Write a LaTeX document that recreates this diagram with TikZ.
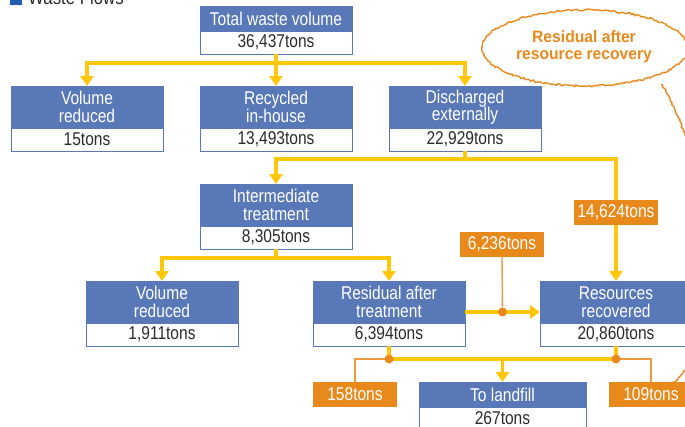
\documentclass[tikz,border=0pt]{standalone}
\usepackage{fontspec}
\setmainfont{Liberation Sans}[FakeStretch=0.84]
\newfontfamily\bubblefont{Liberation Sans}[FakeStretch=0.95]
\usepackage{tikz}
\usetikzlibrary{positioning,arrows.meta,decorations.pathmorphing}
\definecolor{boxblue}{HTML}{5878B8}
\definecolor{flowgold}{HTML}{FFC60A}
\definecolor{tagorange}{HTML}{E8891C}
\definecolor{valgray}{HTML}{2B2B2B}
\definecolor{titleblue}{HTML}{1F5FAD}
\tikzset{
  head/.style={fill=boxblue, draw=boxblue, line width=1pt, text=white, align=center, inner sep=0pt, outer sep=0pt, minimum width=152pt, minimum height=42pt, anchor=north west, font=\fontsize{18.5}{17.5}\selectfont},
  headone/.style={head, minimum height=25pt},
  val/.style={fill=white, draw=boxblue, line width=1pt, text=valgray, inner sep=0pt, outer sep=0pt, minimum width=152pt, minimum height=23pt, font=\fontsize{18.5}{18}\selectfont},
  tag/.style={fill=tagorange, text=white, inner sep=0pt, outer sep=0pt, minimum width=84pt, minimum height=25pt, font=\fontsize{18.5}{18}\selectfont},
  flow/.style={draw=flowgold, line width=3.5pt},
  flowarrow/.style={flow, -{Triangle[width=13pt,length=10pt]}},
  tagline/.style={draw=tagorange!85, line width=1.4pt},
  dot/.style={circle, fill=tagorange, inner sep=0pt, outer sep=0pt, minimum size=9pt},
  rough/.style={draw=tagorange, line width=1.4pt, decorate, decoration={random steps, segment length=2pt, amplitude=0.9pt}},
  bubbletext/.style={text=tagorange, align=center, font=\bubblefont\bfseries\fontsize{16.5}{17}\selectfont}
}
\pgfmathsetseed{7}

\begin{document}
\begin{tikzpicture}[x=1pt, y=-1pt]
  \useasboundingbox (0,0) rectangle (685,426);

  % Title
  \fill[titleblue] (10,-8) rectangle (22,5);
  \node[anchor=base west, inner sep=0pt, text=valgray, font=\fontsize{20}{20}\selectfont] (title) at (28,4) {Waste Flows};

  % Boxes
  \node[headone] (total) at (200,6) {Total waste volume};
  \node[val, below=0pt of total] (totalv) {36,437tons};

  \node[head] (volred) at (11,86) {Volume\\reduced};
  \node[val, below=0pt of volred] (volredv) {15tons};
  \node[head] (recyc) at (200,86) {Recycled\\in-house};
  \node[val, below=0pt of recyc] (recycv) {13,493tons};
  \node[head] (disch) at (389,86) {Discharged\\externally};
  \node[val, below=0pt of disch] (dischv) {22,929tons};

  \node[head] (inter) at (200,184) {Intermediate\\treatment};
  \node[val, below=0pt of inter] (interv) {8,305tons};

  \node[head] (volred2) at (86,281) {Volume\\reduced};
  \node[val, below=0pt of volred2] (volred2v) {1,911tons};
  \node[head] (resid) at (313,281) {Residual after\\treatment};
  \node[val, below=0pt of resid] (residv) {6,394tons};
  \node[head] (resrec) at (540,281) {Resources\\recovered};
  \node[val, below=0pt of resrec] (resrecv) {20,860tons};

  \node[headone, minimum width=167pt] (landfill) at (419,382) {To landfill};
  \node[val, minimum width=167pt, below=0pt of landfill] (landfillv) {267tons};

  % Flows from total
  \draw[flow] (totalv.south) -- ++(0,9) coordinate (split1);
  \draw[flowarrow] (split1) -| (volred.north);
  \draw[flowarrow] (split1) -| (recyc.north);
  \draw[flowarrow] (split1) -| (disch.north);

  % Discharged externally
  \draw[flow] (dischv.south) -- ++(0,8) coordinate (split2);
  \draw[flowarrow] (split2) -| (inter.north);
  \draw[flowarrow] (split2) -| (resrec.north);
  \node[tag] (t14624) at (616,212) {14,624tons};

  % Intermediate treatment
  \draw[flow] (interv.south) -- ++(0,9) coordinate (split3);
  \draw[flowarrow] (split3) -| (volred2.north);
  \draw[flowarrow] (split3) -| (resid.north);

  % Residual to resources
  \draw[flowarrow] ([yshift=-10pt]resid.east) -- node[dot, pos=0.5] (dotmid) {} ([yshift=-10pt]resid.east -| resrec.west);
  \node[tag] (t6236) at (502,244.5) {6,236tons};
  \draw[tagline] (t6236.south) -- (dotmid);

  % To landfill
  \draw[flow] (residv.south) -- ++(0,13) coordinate (split4);
  \draw[flow] (resrecv.south) -- ++(0,13) coordinate (split5);
  \draw[flow] (split4) -- (split5);
  \draw[flowarrow] (landfill.north |- split4) -- (landfill.north);
  \node[tag] (t158) at (355,394.5) {158tons};
  \node[tag] (t109) at (651,394.5) {109tons};
  \draw[tagline] (split4) -| (t158.north);
  \draw[tagline] (split5) -| (t109.north);
  \node[dot] (dotleft) at (split4) {};
  \node[dot] (dotright) at (split5) {};

  % Bubble
  \draw[rough] (585,48) ellipse [x radius=103pt, y radius=38pt];
  \draw[rough] (661,84) .. controls (700,140) and (740,330) .. (672,384);
  \node[bubbletext] (bubble) at (584,47) {Residual after\\resource recovery};
\end{tikzpicture}
\end{document}
